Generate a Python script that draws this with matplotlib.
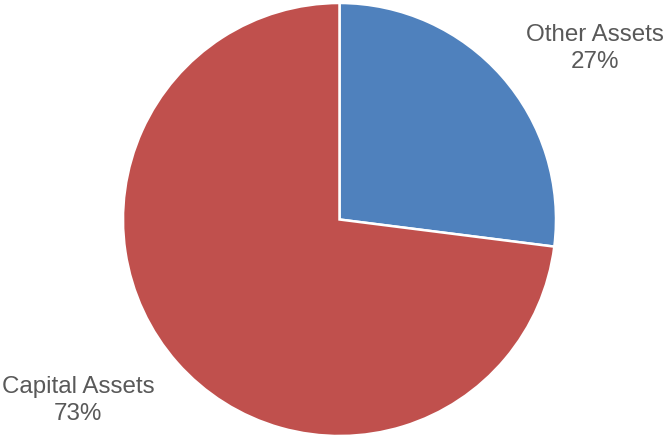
import matplotlib
matplotlib.use("Agg")
import matplotlib.pyplot as plt

categories = ["Other Assets", "Capital Assets"]
shares = [27, 73]
colors = ["#4F81BD", "#C0504D"]

W, H = 663, 439
fig = plt.figure(figsize=(W / 100, H / 100), dpi=100)

cx, cy, r = 339.5, 220.5, 216.5
ax = fig.add_axes([(cx - r) / W, (H - cy - r) / H, 2 * r / W, 2 * r / H])
ax.pie(shares, colors=colors, startangle=90, counterclock=False, radius=1,
       wedgeprops=dict(edgecolor="white", linewidth=1.8))
ax.set_xlim(-1, 1)
ax.set_ylim(-1, 1)
ax.set_aspect("equal")
ax.axis("off")

label_pos = [(1.178, 0.795), (-1.208, -0.83)]
for name, val, (x, y) in zip(categories, shares, label_pos):
    ax.text(x, y, f"{name}\n{val}%", ha="center", va="center",
            fontsize=17.4, color="#595959", family="Liberation Sans",
            linespacing=1.28, clip_on=False)

fig.savefig("out.png", dpi=100)
